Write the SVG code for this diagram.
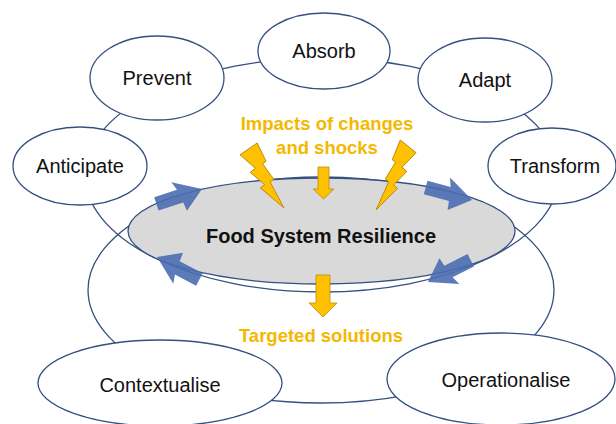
<svg xmlns="http://www.w3.org/2000/svg" width="616" height="424" viewBox="0 0 616 424">
<style>
.ring{fill:none;stroke:#34507f;stroke-width:1.3}
.node{fill:#ffffff;stroke:#34507f;stroke-width:1.3}
.core{fill:#d9d9d9;stroke:#34507f;stroke-width:1.3}
.lbl{font-family:"Liberation Sans",Arial,sans-serif;font-size:20px;fill:#111;text-anchor:middle}
.title{font-family:"Liberation Sans",Arial,sans-serif;font-size:20px;font-weight:bold;fill:#111;text-anchor:middle}
.gold{font-family:"Liberation Sans",Arial,sans-serif;font-size:18.5px;font-weight:bold;fill:#f5b800;text-anchor:middle}
.bolt{fill:#ffc000;stroke:#b98d10;stroke-width:1}
.down{fill:#ffc000;stroke:#b98d10;stroke-width:0.8}
.flow{fill:#4a6db0;fill-opacity:0.9}
</style>
<defs>
<path id="barrow" d="M-48,-7 L-24,-7 L-27,-16 L0,0 L-21,16 L-22,7 L-48,7 Z"/>
</defs>
<g id="connectors">
<ellipse class="ring" cx="322" cy="175" rx="237" ry="117"/>
<ellipse class="ring" cx="321" cy="290" rx="233" ry="113"/>
</g>
<g id="core">
<ellipse class="core" cx="321.5" cy="231" rx="193.5" ry="53"/>
<text class="title" x="321" y="243">Food System Resilience</text>
</g>
<g id="flows">
<use href="#barrow" class="flow" transform="translate(202,189) rotate(-18)"/>
<use href="#barrow" class="flow" transform="translate(472,200) rotate(15)"/>
<use href="#barrow" class="flow" transform="translate(428,282) rotate(153)"/>
<use href="#barrow" class="flow" transform="translate(157,257) rotate(208)"/>
</g>
<g id="absorb"><ellipse class="node" cx="324" cy="51" rx="66" ry="38"/><text class="lbl" x="324" y="58">Absorb</text></g>
<g id="prevent"><ellipse class="node" cx="157" cy="78" rx="67" ry="42"/><text class="lbl" x="157" y="85">Prevent</text></g>
<g id="adapt"><ellipse class="node" cx="485" cy="80" rx="67" ry="42"/><text class="lbl" x="485" y="87">Adapt</text></g>
<g id="anticipate"><ellipse class="node" cx="80" cy="166" rx="67" ry="39"/><text class="lbl" x="80" y="173">Anticipate</text></g>
<g id="transform"><ellipse class="node" cx="552" cy="166" rx="64" ry="38"/><text class="lbl" x="555" y="173">Transform</text></g>
<g id="contextualise"><ellipse class="node" cx="160" cy="383" rx="122" ry="43"/><text class="lbl" x="160" y="392">Contextualise</text></g>
<g id="operationalise"><ellipse class="node" cx="501" cy="379" rx="114" ry="46"/><text class="lbl" x="506" y="387">Operationalise</text></g>
<g id="impacts">
<text class="gold" x="327" y="130">Impacts of changes</text>
<text class="gold" x="327" y="154">and shocks</text>
<polygon class="bolt" points="257.2,143 240,154.8 255.4,168.3 250.2,172.3 264.8,184.8 260.3,187.9 284,208 270.1,181.9 273.7,179.2 262.5,163.6 266.1,161.4"/>
<polygon class="bolt" points="400.3,140 416,152.7 402,167.3 406.8,171.5 393.4,185.1 397.5,188.4 376,210 388.7,181.8 385.3,178.9 395.6,162.2 392.2,159.8"/>
<polygon class="down" points="318,167 329,167 329,189 334,189 323.5,199 313,189 318,189"/>
</g>
<g id="solutions">
<polygon class="down" points="316,275 330,275 330,303 337,303 323,317 309,303 316,303"/>
<text class="gold" x="321" y="342">Targeted solutions</text>
</g>
</svg>
